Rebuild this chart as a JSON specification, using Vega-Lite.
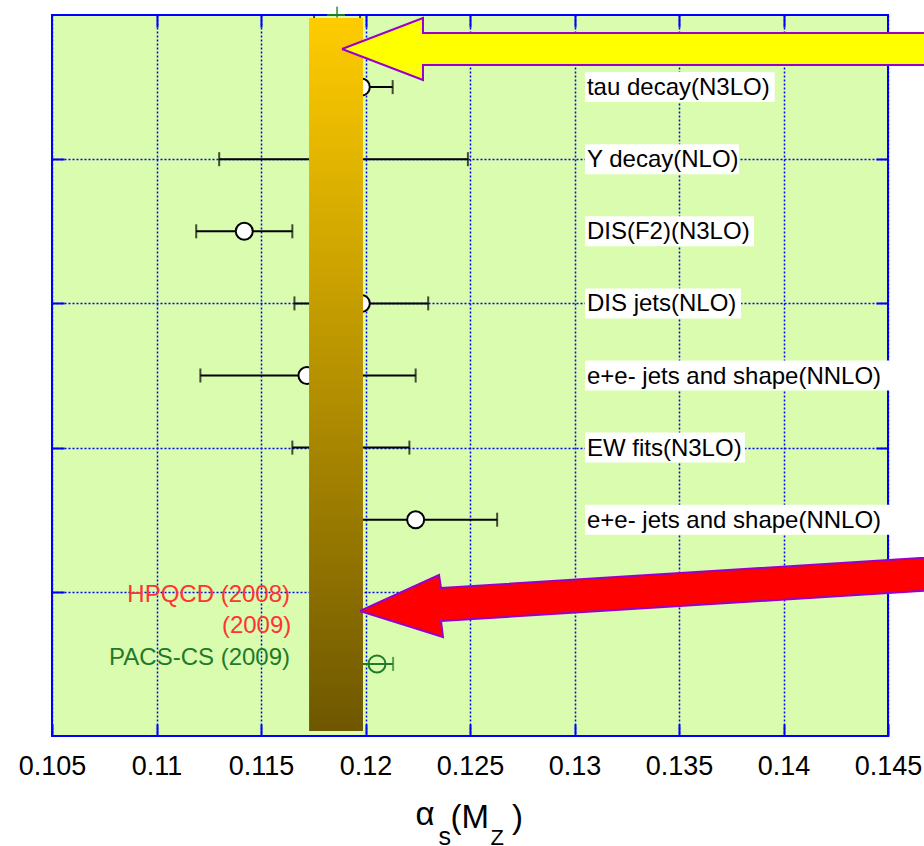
{
  "$schema": "https://vega.github.io/schema/vega-lite/v6.json",
  "width": 836,
  "height": 721,
  "autosize": {"type": "none"},
  "padding": {"left": 52, "top": 15, "right": 36, "bottom": 110},
  "background": "#ffffff",
  "config": {
    "view": {"fill": "#D9FCAF", "stroke": "#0000FF", "strokeWidth": 2},
    "font": "Liberation Sans",
    "axis": {"domain": false, "labelFont": "Liberation Sans", "titleFont": "Liberation Sans", "titleFontWeight": "normal", "titleColor": "#000000", "labelColor": "#000000"}
  },
  "datasets": {
    "meas": [
      {"name": "tau decay", "kind": "pert", "v": 0.1198, "lo": 0.1183, "hi": 0.1213, "y": 9},
      {"name": "Y decay", "kind": "pert", "v": 0.1190, "lo": 0.1130, "hi": 0.1249, "y": 8},
      {"name": "DIS(F2)", "kind": "pert", "v": 0.1142, "lo": 0.1119, "hi": 0.1165, "y": 7},
      {"name": "DIS jets", "kind": "pert", "v": 0.1198, "lo": 0.1166, "hi": 0.1230, "y": 6},
      {"name": "e+e- jets and shape 1", "kind": "pert", "v": 0.1172, "lo": 0.1121, "hi": 0.1224, "y": 5},
      {"name": "EW fits", "kind": "pert", "v": 0.1193, "lo": 0.1165, "hi": 0.1221, "y": 4},
      {"name": "e+e- jets and shape 2", "kind": "pert", "v": 0.1224, "lo": 0.1186, "hi": 0.1263, "y": 3},
      {"name": "HPQCD 2008", "kind": "HPQCD", "v": 0.1183, "lo": 0.1177, "hi": 0.1189, "y": 2},
      {"name": "HPQCD 2009", "kind": "HPQCD", "v": 0.1184, "lo": 0.1178, "hi": 0.1190, "y": 1.55},
      {"name": "PACS-CS 2009", "kind": "PACS", "v": 0.12055, "lo": 0.11978, "hi": 0.12132, "y": 1}
    ],
    "edge": [
      {"part": "cap", "kind": "pert", "x": 0.11754, "y": 9.972},
      {"part": "cap", "kind": "pert", "x": 0.11974, "y": 9.972},
      {"part": "mid", "kind": "PACS", "x": 0.11864, "y": 10.04}
    ],
    "edgeRule": [{"kind": "PACS", "lo": 0.11816, "hi": 0.11902, "y": 10}],
    "labels": [
      {"label": "tau decay(N3LO)", "y": 9, "x0": 0.1305, "x1": 0.13958},
      {"label": "Y decay(NLO)", "y": 8, "x0": 0.1305, "x1": 0.13787},
      {"label": "DIS(F2)(N3LO)", "y": 7, "x0": 0.1305, "x1": 0.13859},
      {"label": "DIS jets(NLO)", "y": 6, "x0": 0.1305, "x1": 0.13797},
      {"label": "e+e- jets and shape(NNLO)", "y": 5, "x0": 0.1305, "x1": 0.14519},
      {"label": "EW fits(N3LO)", "y": 4, "x0": 0.1305, "x1": 0.13816},
      {"label": "e+e- jets and shape(NNLO)", "y": 3, "x0": 0.1305, "x1": 0.14519}
    ],
    "latLabels": [
      {"label": "HPQCD (2008)", "kind": "HPQCD", "y": 1.96, "x": 0.11639},
      {"label": "(2009)", "kind": "HPQCD", "y": 1.526, "x": 0.11645},
      {"label": "PACS-CS (2009)", "kind": "PACS", "y": 1.075, "x": 0.11639}
    ],
    "band": [{"lo": 0.1173, "hi": 0.11988, "ylo": 0.069, "yhi": 9.958}],
    "arrowY": [
      {"i": 0, "x": 0.118876, "y": 9.528},
      {"i": 1, "x": 0.122751, "y": 9.958},
      {"i": 2, "x": 0.122751, "y": 9.751},
      {"i": 3, "x": 0.150359, "y": 9.751},
      {"i": 4, "x": 0.150359, "y": 9.307},
      {"i": 5, "x": 0.122751, "y": 9.307},
      {"i": 6, "x": 0.122751, "y": 9.098},
      {"i": 7, "x": 0.118876, "y": 9.528}
    ],
    "arrowR": [
      {"i": 0, "x": 0.119737, "y": 1.734},
      {"i": 1, "x": 0.123517, "y": 2.233},
      {"i": 2, "x": 0.123612, "y": 2.053},
      {"i": 3, "x": 0.150359, "y": 2.538},
      {"i": 4, "x": 0.150359, "y": 2.080},
      {"i": 5, "x": 0.123612, "y": 1.595},
      {"i": 6, "x": 0.123708, "y": 1.373},
      {"i": 7, "x": 0.119737, "y": 1.734}
    ]
  },
  "resolve": {"axis": {"x": "independent", "y": "independent"}},
  "layer": [
    {
      "data": {"name": "meas"},
      "mark": {"type": "rule", "strokeWidth": 2},
      "encoding": {
        "x": {"field": "lo", "type": "quantitative", "scale": {"domain": [0.105, 0.145], "nice": false, "zero": false},
          "axis": {"orient": "bottom", "values": [0.105, 0.11, 0.115, 0.12, 0.125, 0.13, 0.135, 0.14, 0.145], "format": "~g",
            "labelFontSize": 27, "labelPadding": 50, "labelBaseline": "alphabetic", "labelFlush": false, "labelOverlap": false, "labelBound": false,
            "tickSize": -12, "tickWidth": 2, "tickColor": "#0000FF",
            "grid": true, "gridColor": "#0000FF", "gridDash": [2, 2], "gridWidth": 1.5,
            "title": "α", "titleFontSize": 33, "titleAlign": "left", "titleBaseline": "alphabetic", "titleX": 363, "titleY": 88}},
        "x2": {"field": "hi"},
        "y": {"field": "y", "type": "quantitative", "scale": {"domain": [0, 10], "nice": false, "zero": false},
          "axis": {"orient": "left", "values": [2, 4, 6, 8], "labels": false,
            "tickSize": -12, "tickWidth": 2, "tickColor": "#0000FF",
            "grid": true, "gridColor": "#0000FF", "gridDash": [2, 2], "gridWidth": 1.5,
            "title": "(M\u2002\u2009)", "titleFontSize": 33, "titleAngle": 0, "titleAlign": "left", "titleBaseline": "alphabetic", "titleX": 398, "titleY": 812}},
        "color": {"field": "kind", "type": "nominal", "scale": {"domain": ["pert", "HPQCD", "PACS"], "range": ["#000000", "#FF3333", "#1F7A2A"]}, "legend": null}
      }
    },
    {
      "data": {"name": "meas"},
      "mark": {"type": "tick", "orient": "vertical", "size": 14, "thickness": 2},
      "encoding": {
        "x": {"field": "lo", "type": "quantitative", "scale": {"domain": [0.105, 0.145], "nice": false, "zero": false}, "axis": null},
        "y": {"field": "y", "type": "quantitative", "scale": {"domain": [0, 10], "nice": false, "zero": false}, "axis": null},
        "color": {"field": "kind", "type": "nominal", "legend": null}
      }
    },
    {
      "data": {"name": "meas"},
      "mark": {"type": "tick", "orient": "vertical", "size": 14, "thickness": 2},
      "encoding": {
        "x": {"field": "hi", "type": "quantitative", "scale": {"domain": [0.105, 0.145], "nice": false, "zero": false}, "axis": null},
        "y": {"field": "y", "type": "quantitative", "scale": {"domain": [0, 10], "nice": false, "zero": false}, "axis": null},
        "color": {"field": "kind", "type": "nominal", "legend": null}
      }
    },
    {
      "data": {"name": "meas"},
      "mark": {"type": "point", "shape": "circle", "filled": true, "size": 290, "strokeWidth": 2, "opacity": 1, "fillOpacity": 1},
      "encoding": {
        "x": {"field": "v", "type": "quantitative", "scale": {"domain": [0.105, 0.145], "nice": false, "zero": false},
          "axis": {"orient": "top", "values": [0.11, 0.115, 0.12, 0.125, 0.13, 0.135, 0.14], "labels": false, "grid": false,
            "tickSize": -12, "tickWidth": 2, "tickColor": "#0000FF",
            "title": "s", "titleFontSize": 25, "titleAlign": "left", "titleBaseline": "alphabetic", "titleX": 386, "titleY": 829}},
        "y": {"field": "y", "type": "quantitative", "scale": {"domain": [0, 10], "nice": false, "zero": false},
          "axis": {"orient": "right", "values": [2, 4, 6, 8], "labels": false, "grid": false,
            "tickSize": -12, "tickWidth": 2, "tickColor": "#0000FF",
            "title": "Z", "titleFontSize": 22, "titleAngle": 0, "titleAlign": "left", "titleBaseline": "alphabetic", "titleX": -398, "titleY": 829}},
        "fill": {"field": "kind", "type": "nominal", "scale": {"domain": ["pert", "HPQCD", "PACS"], "range": ["#ffffff", "#ffffff", "rgba(0,0,0,0)"]}, "legend": null},
        "stroke": {"field": "kind", "type": "nominal", "scale": {"domain": ["pert", "HPQCD", "PACS"], "range": ["#000000", "#FF3333", "#1F7A2A"]}, "legend": null}
      }
    },
    {
      "data": {"name": "edge"},
      "mark": {"type": "tick", "orient": "vertical", "thickness": 2},
      "encoding": {
        "x": {"field": "x", "type": "quantitative", "scale": {"domain": [0.105, 0.145], "nice": false, "zero": false}, "axis": null},
        "y": {"field": "y", "type": "quantitative", "scale": {"domain": [0, 10], "nice": false, "zero": false}, "axis": null},
        "size": {"field": "part", "type": "nominal", "scale": {"domain": ["cap", "mid"], "range": [4, 11]}, "legend": null},
        "color": {"field": "kind", "type": "nominal", "legend": null}
      }
    },
    {
      "data": {"name": "edgeRule"},
      "mark": {"type": "rule", "strokeWidth": 2},
      "encoding": {
        "x": {"field": "lo", "type": "quantitative", "scale": {"domain": [0.105, 0.145], "nice": false, "zero": false}, "axis": null},
        "x2": {"field": "hi"},
        "y": {"field": "y", "type": "quantitative", "scale": {"domain": [0, 10], "nice": false, "zero": false}, "axis": null},
        "color": {"field": "kind", "type": "nominal", "legend": null}
      }
    },
    {
      "data": {"name": "labels"},
      "mark": {"type": "rect", "color": "#ffffff", "height": 30},
      "encoding": {
        "x": {"field": "x0", "type": "quantitative", "scale": {"domain": [0.105, 0.145], "nice": false, "zero": false}, "axis": null},
        "x2": {"field": "x1"},
        "y": {"field": "y", "type": "quantitative", "scale": {"domain": [0, 10], "nice": false, "zero": false}, "axis": null}
      }
    },
    {
      "data": {"name": "labels"},
      "mark": {"type": "text", "align": "left", "baseline": "middle", "fontSize": 24, "font": "Liberation Sans", "color": "#000000", "dx": 2, "dy": 1},
      "encoding": {
        "x": {"field": "x0", "type": "quantitative", "scale": {"domain": [0.105, 0.145], "nice": false, "zero": false}, "axis": null},
        "y": {"field": "y", "type": "quantitative", "scale": {"domain": [0, 10], "nice": false, "zero": false}, "axis": null},
        "text": {"field": "label"}
      }
    },
    {
      "data": {"name": "latLabels"},
      "mark": {"type": "text", "align": "right", "baseline": "middle", "fontSize": 24, "font": "Liberation Sans"},
      "encoding": {
        "x": {"field": "x", "type": "quantitative", "scale": {"domain": [0.105, 0.145], "nice": false, "zero": false}, "axis": null},
        "y": {"field": "y", "type": "quantitative", "scale": {"domain": [0, 10], "nice": false, "zero": false}, "axis": null},
        "text": {"field": "label"},
        "color": {"field": "kind", "type": "nominal", "legend": null}
      }
    },
    {
      "data": {"name": "band"},
      "mark": {"type": "rect", "color": {"gradient": "linear", "x1": 0, "y1": 0, "x2": 0, "y2": 1, "stops": [{"offset": 0, "color": "#FFCC00"}, {"offset": 1, "color": "#6E5700"}]}},
      "encoding": {
        "x": {"field": "lo", "type": "quantitative", "scale": {"domain": [0.105, 0.145], "nice": false, "zero": false}, "axis": null},
        "x2": {"field": "hi"},
        "y": {"field": "yhi", "type": "quantitative", "scale": {"domain": [0, 10], "nice": false, "zero": false}, "axis": null},
        "y2": {"field": "ylo"}
      }
    },
    {
      "data": {"name": "arrowY"},
      "mark": {"type": "line", "fill": "#FFFF00", "stroke": "#9900CC", "strokeWidth": 2, "strokeJoin": "miter", "opacity": 1},
      "encoding": {
        "x": {"field": "x", "type": "quantitative", "scale": {"domain": [0.105, 0.145], "nice": false, "zero": false}, "axis": null},
        "y": {"field": "y", "type": "quantitative", "scale": {"domain": [0, 10], "nice": false, "zero": false}, "axis": null},
        "order": {"field": "i", "type": "quantitative"}
      }
    },
    {
      "data": {"name": "arrowR"},
      "mark": {"type": "line", "fill": "#FF0000", "stroke": "#9900CC", "strokeWidth": 2, "strokeJoin": "miter", "opacity": 1},
      "encoding": {
        "x": {"field": "x", "type": "quantitative", "scale": {"domain": [0.105, 0.145], "nice": false, "zero": false}, "axis": null},
        "y": {"field": "y", "type": "quantitative", "scale": {"domain": [0, 10], "nice": false, "zero": false}, "axis": null},
        "order": {"field": "i", "type": "quantitative"}
      }
    }
  ]
}
